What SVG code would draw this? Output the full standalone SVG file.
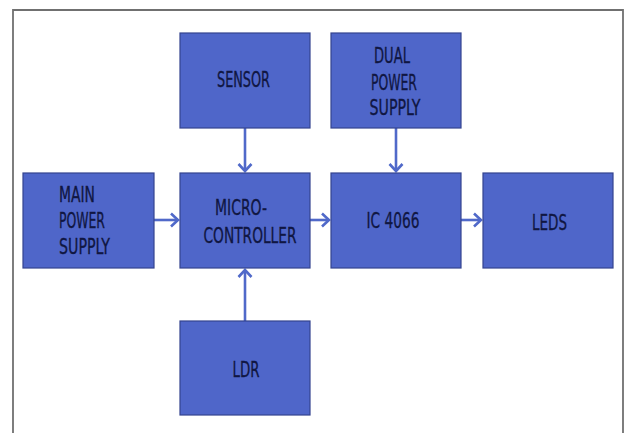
<svg xmlns="http://www.w3.org/2000/svg" width="624" height="433" viewBox="0 0 624 433">
<style>
.box{fill:#4F66C9;stroke:#34438F;stroke-width:1.2}
.t,.tl{font-family:"DejaVu Sans Condensed","DejaVu Sans","Liberation Sans",sans-serif;font-size:21px;fill:#101642;stroke:#101642;stroke-width:0.3}
.t{text-anchor:middle}
.tl{text-anchor:start}
.c{stroke:#5069C9;stroke-width:2.6;fill:none}
</style>
<defs>
<marker id="ah" viewBox="-10 -8 12 16" markerWidth="12" markerHeight="16" refX="0" refY="0" orient="auto" markerUnits="userSpaceOnUse">
<path d="M -7 -6.5 L 0 0 L -7 6.5" fill="none" stroke="#5069C9" stroke-width="2.6"/>
</marker>
</defs>
<rect x="0" y="0" width="624" height="433" fill="#ffffff"/>
<path d="M13 433 V10 H623 V433" fill="none" stroke="#707070" stroke-width="1.8"/>
<g id="connectors">
<line class="c" x1="245" y1="128" x2="245" y2="171" marker-end="url(#ah)"/>
<line class="c" x1="396" y1="128" x2="396" y2="171" marker-end="url(#ah)"/>
<line class="c" x1="154" y1="220" x2="178" y2="220" marker-end="url(#ah)"/>
<line class="c" x1="310" y1="220" x2="329" y2="220" marker-end="url(#ah)"/>
<line class="c" x1="461" y1="220" x2="481" y2="220" marker-end="url(#ah)"/>
<line class="c" x1="245" y1="321" x2="245" y2="270" marker-end="url(#ah)"/>
</g>
<g id="sensor">
<rect class="box" x="180" y="33" width="130" height="95"/>
<text class="t" x="243.5" y="87" textLength="53" lengthAdjust="spacingAndGlyphs">SENSOR</text>
</g>
<g id="dual-power-supply">
<rect class="box" x="331" y="33" width="130" height="95"/>
<text class="t" x="392" y="63" textLength="36" lengthAdjust="spacingAndGlyphs">DUAL</text>
<text class="t" x="394" y="89.5" textLength="46" lengthAdjust="spacingAndGlyphs">POWER</text>
<text class="t" x="395" y="115" textLength="51" lengthAdjust="spacingAndGlyphs">SUPPLY</text>
</g>
<g id="main-power-supply">
<rect class="box" x="23" y="173" width="131" height="95"/>
<text class="tl" x="59" y="202" textLength="36" lengthAdjust="spacingAndGlyphs">MAIN</text>
<text class="tl" x="59" y="228" textLength="46" lengthAdjust="spacingAndGlyphs">POWER</text>
<text class="tl" x="59" y="254" textLength="51" lengthAdjust="spacingAndGlyphs">SUPPLY</text>
</g>
<g id="microcontroller">
<rect class="box" x="180" y="173" width="130" height="95"/>
<text class="t" x="241" y="215" textLength="52" lengthAdjust="spacingAndGlyphs">MICRO-</text>
<text class="t" x="250" y="243" textLength="93" lengthAdjust="spacingAndGlyphs">CONTROLLER</text>
</g>
<g id="ic4066">
<rect class="box" x="331" y="173" width="130" height="95"/>
<text class="t" x="393" y="228" textLength="53" lengthAdjust="spacingAndGlyphs">IC 4066</text>
</g>
<g id="leds">
<rect class="box" x="483" y="173" width="130" height="95"/>
<text class="t" x="549.5" y="230" textLength="35" lengthAdjust="spacingAndGlyphs">LEDS</text>
</g>
<g id="ldr">
<rect class="box" x="180" y="321" width="130" height="94"/>
<text class="t" x="246" y="376.5" textLength="27" lengthAdjust="spacingAndGlyphs">LDR</text>
</g>
</svg>
